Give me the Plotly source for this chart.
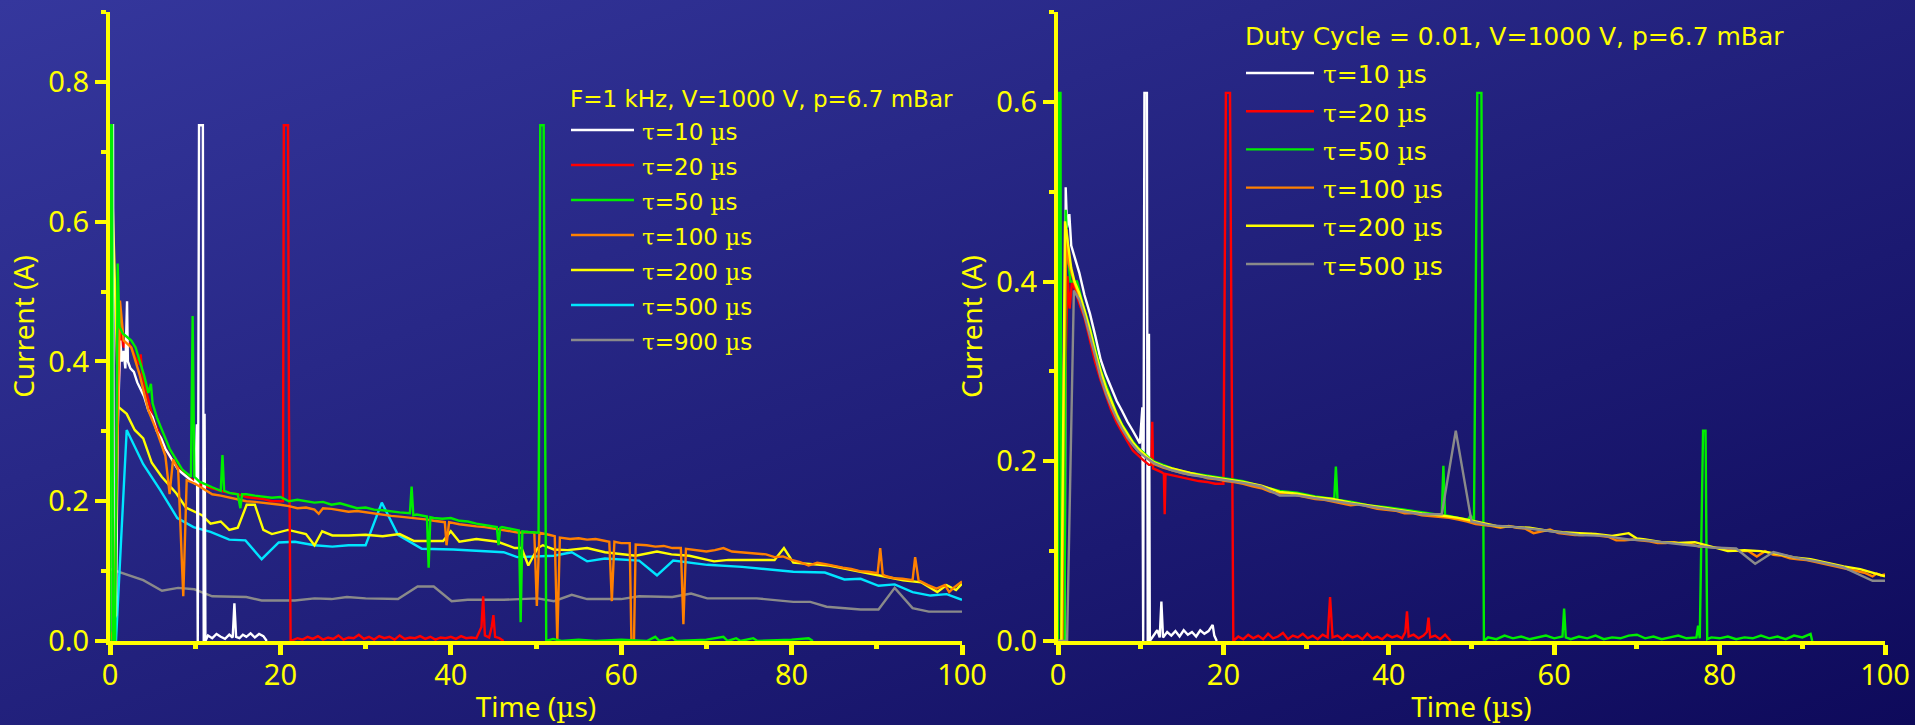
import base64
import plotly.graph_objects as go

# ---------------- data : left panel (F = 1 kHz) ----------------
L_TAU10 = [(0, 0), (0.2, 0.738), (0.35, 0.738), (0.45, 0.03), (0.7, 0.037), (0.9, 0.30), (1.2, 0.43), (1.4, 0.40),
           (1.6, 0.415), (1.8, 0.39), (2.0, 0.486), (2.1, 0.40), (2.4, 0.39), (2.8, 0.385), (3.2, 0.37), (3.6, 0.36),
           (4.0, 0.35), (4.5, 0.33), (5.0, 0.32), (5.5, 0.30), (6.0, 0.29), (6.5, 0.275), (7.0, 0.265), (7.5, 0.255),
           (8.0, 0.245), (8.5, 0.24), (9.0, 0.235), (9.5, 0.23), (10.0, 0.225), (10.2, 0.31), (10.3, 0.0),
           (10.45, 0.738), (10.6, 0.738), (10.9, 0.738), (11.0, 0.0), (11.1, 0.325), (11.2, 0.0), (11.5, 0.008),
           (12.0, 0.004), (12.5, 0.01), (13.0, 0.006), (13.5, 0.003), (14.0, 0.009), (14.4, 0.005), (14.6, 0.054),
           (14.8, 0.006), (15.2, 0.004), (15.6, 0.009), (16.0, 0.006), (16.5, 0.011), (17.0, 0.005), (17.5, 0.01),
           (18.0, 0.007), (18.4, 0.0)]

L_TAU20 = [(0, 0), (0.5, 0), (0.8, 0.30), (1.3, 0.45), (1.6, 0.42), (2.0, 0.43), (2.5, 0.42), (3.0, 0.405),
           (3.5, 0.395), (3.6, 0.41), (3.8, 0.38), (4.5, 0.345), (5.0, 0.32), (5.5, 0.305), (6.0, 0.29),
           (6.5, 0.275), (7.0, 0.265), (7.5, 0.255), (8.0, 0.248), (8.5, 0.242), (9.0, 0.236), (9.5, 0.232),
           (10, 0.228), (10.5, 0.225), (11, 0.222), (12, 0.218), (13, 0.215), (14, 0.212), (15, 0.21), (16, 0.206),
           (17, 0.205), (18, 0.203), (19, 0.2), (20, 0.2), (20.3, 0.2), (20.4, 0.738), (20.9, 0.738), (21.0, 0.33),
           (21.2, 0.0), (22, 0.004), (22.6, 0.002), (23.2, 0.006), (23.8, 0.003), (24.4, 0.007), (25, 0.002),
           (25.6, 0.005), (26.2, 0.003), (26.8, 0.008), (27.4, 0.002), (28, 0.005), (28.6, 0.004), (29.2, 0.009),
           (29.8, 0.003), (30.4, 0.006), (31, 0.002), (31.6, 0.007), (32.2, 0.004), (32.8, 0.006), (33.4, 0.002),
           (34, 0.008), (34.6, 0.003), (35.2, 0.005), (35.8, 0.004), (36.4, 0.007), (37, 0.003), (37.6, 0.006),
           (38.2, 0.002), (38.8, 0.005), (39.4, 0.004), (40, 0.006), (40.6, 0.003), (41.2, 0.007), (41.8, 0.004),
           (42.4, 0.005), (43.0, 0.004), (43.6, 0.02), (43.8, 0.064), (44.0, 0.008), (44.5, 0.005), (44.8, 0.02),
           (45.0, 0.037), (45.2, 0.006), (45.7, 0.004), (46.2, 0.0)]

L_TAU50 = [(0, 0), (0.1, 0.738), (0.25, 0.738), (0.35, 0.0), (0.6, 0.0), (0.9, 0.54), (1.1, 0.45), (1.5, 0.44),
           (2, 0.435), (2.5, 0.43), (3, 0.42), (3.5, 0.40), (4, 0.38), (4.5, 0.355), (4.8, 0.368), (5, 0.34),
           (5.5, 0.32), (6, 0.305), (6.5, 0.29), (7, 0.275), (7.5, 0.265), (8, 0.255), (8.5, 0.245), (9, 0.24),
           (9.5, 0.235), (9.7, 0.465), (9.9, 0.235), (10.5, 0.228), (11, 0.225), (12, 0.22), (13.0, 0.215),
           (13.2, 0.266), (13.4, 0.215), (14, 0.212), (15, 0.21), (15.3, 0.19), (15.5, 0.21), (16, 0.21),
           (17, 0.208), (18, 0.207), (19, 0.205), (20, 0.206), (21, 0.2), (22, 0.202), (23, 0.2), (24, 0.198),
           (25, 0.199), (26, 0.195), (27, 0.197), (28, 0.193), (29, 0.19), (30, 0.191), (31, 0.188), (32, 0.187),
           (33, 0.185), (34, 0.184), (35.2, 0.183), (35.4, 0.221), (35.6, 0.18), (36, 0.181), (37.2, 0.178),
           (37.4, 0.105), (37.6, 0.177), (38, 0.176), (39, 0.175), (40, 0.176), (41, 0.172), (42, 0.171),
           (43, 0.168), (44, 0.166), (45.4, 0.163), (45.6, 0.137), (45.8, 0.162), (46, 0.163), (47, 0.16),
           (48.0, 0.158), (48.2, 0.027), (48.4, 0.157), (49, 0.156), (50.3, 0.155), (50.5, 0.738), (50.9, 0.738),
           (51.2, 0.0), (52, 0.003), (53, 0.0), (55, 0.002), (57, 0.0), (60, 0.002), (63, 0.0), (64, 0.006),
           (64.5, 0.0), (66, 0.005), (66.5, 0.0), (70, 0.002), (72, 0.006), (72.5, 0.0), (73.5, 0.004), (74, 0.0),
           (75.5, 0.004), (76, 0.0), (80, 0.002), (82, 0.004), (82.5, 0.0)]

L_TAU100 = [(0, 0), (0.5, 0.02), (1.17, 0.487), (1.6, 0.43), (2.5, 0.42), (3.5, 0.38), (4.5, 0.33), (5.5, 0.30),
            (6.5, 0.265), (7.0, 0.21), (7.4, 0.26), (8.0, 0.245), (8.6, 0.064), (9.0, 0.23), (10, 0.225),
            (11, 0.218), (12, 0.21), (13, 0.208), (14, 0.205), (15, 0.203), (16, 0.2), (17, 0.199), (18, 0.198),
            (19, 0.196), (20, 0.195), (21, 0.193), (22, 0.19), (23, 0.191), (24, 0.188), (24.5, 0.182),
            (25, 0.19), (26, 0.189), (27, 0.187), (28, 0.185), (29, 0.186), (30, 0.184), (31, 0.182),
            (32, 0.18), (33, 0.179), (34, 0.178), (35, 0.177), (36, 0.175), (37, 0.174), (38, 0.172),
            (39.3, 0.17), (39.5, 0.137), (39.8, 0.17), (41, 0.167), (42, 0.165), (43, 0.164), (44, 0.163),
            (45, 0.161), (46, 0.16), (47, 0.158), (48, 0.155), (49, 0.156), (49.8, 0.155), (50.1, 0.05),
            (50.4, 0.155), (51.5, 0.152), (52.2, 0.15), (52.5, 0.0), (52.8, 0.148), (54, 0.146), (55, 0.147),
            (56, 0.145), (57, 0.146), (58.6, 0.142), (58.9, 0.057), (59.2, 0.142), (60, 0.14), (61.0, 0.14),
            (61.2, 0.0), (61.5, 0.0), (61.7, 0.138), (63, 0.137), (64, 0.135), (65, 0.136), (66, 0.133),
            (67.0, 0.133), (67.3, 0.024), (67.6, 0.132), (69, 0.13), (70, 0.128), (71, 0.13), (72, 0.133),
            (73, 0.128), (74, 0.127), (75, 0.126), (76, 0.125), (77, 0.124), (78, 0.12), (79, 0.121),
            (80, 0.116), (81, 0.113), (82, 0.108), (83, 0.112), (84, 0.11), (85, 0.107), (86, 0.105),
            (87, 0.103), (88, 0.1), (89, 0.099), (90.1, 0.097), (90.4, 0.133), (90.7, 0.095), (91, 0.093),
            (92, 0.09), (93, 0.089), (94.2, 0.087), (94.5, 0.12), (94.9, 0.087), (96, 0.08), (97, 0.075),
            (98, 0.08), (98.5, 0.07), (99, 0.076), (100, 0.085)]

L_TAU200 = [(0, 0), (0.1, 0.72), (0.98, 0.335), (1.96, 0.325), (2.9, 0.302), (3.9, 0.29), (4.9, 0.255),
            (6.07, 0.235), (7.8, 0.211), (8.9, 0.191), (10.8, 0.18), (11.8, 0.168), (13, 0.171), (14, 0.159),
            (15, 0.162), (16.04, 0.195), (17, 0.195), (18, 0.159), (19, 0.153), (20.9, 0.159), (23, 0.153),
            (24, 0.137), (24.9, 0.157), (26.1, 0.151), (28, 0.151), (30, 0.152), (32, 0.15), (34, 0.153),
            (35.7, 0.143), (39.1, 0.143), (40, 0.157), (41, 0.142), (43, 0.146), (45.5, 0.142), (47.5, 0.133),
            (48.3, 0.133), (49.1, 0.108), (50.2, 0.133), (50.8, 0.137), (52.1, 0.131), (53.7, 0.13),
            (56, 0.133), (58.1, 0.127), (61.7, 0.122), (64.2, 0.128), (65.9, 0.124), (68, 0.122),
            (70.9, 0.114), (72.6, 0.116), (78, 0.116), (79.1, 0.133), (80.2, 0.112), (84.4, 0.108),
            (87.7, 0.1), (90.2, 0.093), (93.1, 0.087), (95.2, 0.084), (97.1, 0.07), (98.2, 0.08),
            (99.3, 0.073), (100, 0.082)]

L_TAU500 = [(0, 0), (0.7, 0), (1.96, 0.302), (3.9, 0.253), (5.9, 0.216), (7.9, 0.176), (9.8, 0.163),
            (11.8, 0.156), (14, 0.145), (15.9, 0.144), (17.8, 0.117), (19.8, 0.141), (21.7, 0.142), (24, 0.137),
            (26.1, 0.135), (28, 0.137), (30, 0.137), (31.9, 0.198), (33.8, 0.152), (36.6, 0.132), (40.3, 0.131),
            (46.2, 0.127), (47.8, 0.12), (52.1, 0.122), (54.2, 0.127), (56, 0.114), (58.1, 0.118), (62.1, 0.115),
            (64.2, 0.094), (66.1, 0.115), (70.1, 0.109), (74.2, 0.106), (80.2, 0.099), (83.9, 0.098),
            (86.2, 0.088), (88.1, 0.089), (90.2, 0.079), (92.1, 0.081), (94.2, 0.07), (96.3, 0.065),
            (98.2, 0.067), (100, 0.059)]

L_TAU900 = [(0, 0.103), (3.9, 0.087), (6.1, 0.072), (8.0, 0.076), (9.9, 0.074), (12, 0.064), (16, 0.063),
            (17.8, 0.058), (21.7, 0.058), (24, 0.061), (26, 0.06), (27.8, 0.063), (30, 0.061), (33.8, 0.06),
            (36.1, 0.078), (38, 0.078), (40.1, 0.057), (42, 0.059), (46.2, 0.059), (50.2, 0.061), (52.1, 0.057),
            (54.2, 0.066), (56, 0.06), (60, 0.06), (62.1, 0.064), (66, 0.063), (68.2, 0.068), (70.1, 0.061),
            (75.9, 0.061), (80.2, 0.056), (82.2, 0.056), (84.1, 0.049), (88.1, 0.045), (90.2, 0.045),
            (92.1, 0.076), (94.2, 0.047), (96.1, 0.042), (100, 0.042)]

# ---------------- data : right panel (duty cycle 0.01) ----------------
R_TAU10 = [(0, 0), (0.8, 0), (0.93, 0.505), (1.1, 0.46), (1.37, 0.475), (1.6, 0.44), (1.92, 0.43), (2.3, 0.418),
           (2.57, 0.41), (3.2, 0.385), (3.87, 0.364), (4.5, 0.34), (5.16, 0.313), (5.8, 0.296), (6.46, 0.281),
           (7.1, 0.267), (7.75, 0.256), (8.4, 0.244), (9.05, 0.234), (9.5, 0.227), (9.9, 0.22), (10.2, 0.26),
           (10.3, 0.0), (10.45, 0.61), (10.75, 0.61), (10.85, 0.0), (11.0, 0.342), (11.1, 0.0), (11.5, 0.006),
           (12.0, 0.012), (12.3, 0.004), (12.5, 0.044), (12.7, 0.004), (13.2, 0.01), (13.7, 0.006), (14.2, 0.011),
           (14.7, 0.005), (15.2, 0.012), (15.7, 0.007), (16.2, 0.01), (16.7, 0.005), (17.2, 0.012), (17.7, 0.008),
           (18.2, 0.011), (18.7, 0.018), (18.9, 0.006), (19.2, 0.0)]

R_TAU20 = [(0, 0), (0.6, 0), (0.9, 0.30), (1.15, 0.406), (1.4, 0.37), (1.7, 0.40), (2.1, 0.39), (2.6, 0.375),
           (3.2, 0.36), (3.87, 0.335), (4.5, 0.31), (5.16, 0.29), (5.8, 0.272), (6.46, 0.256), (7.1, 0.243),
           (7.75, 0.232), (8.4, 0.222), (9.05, 0.212), (9.7, 0.206), (10.35, 0.201), (11, 0.196), (11.3, 0.196),
           (11.4, 0.244), (11.5, 0.192), (12.5, 0.188), (12.8, 0.186), (12.9, 0.141), (13.0, 0.186), (14, 0.184),
           (15, 0.182), (16, 0.18), (17, 0.178), (18, 0.177), (19, 0.175), (20.0, 0.175), (20.3, 0.61),
           (20.8, 0.61), (21.0, 0.3), (21.2, 0.0), (21.8, 0.005), (22.4, 0.002), (23.0, 0.007), (23.6, 0.003),
           (24.2, 0.006), (24.8, 0.002), (25.4, 0.008), (26.0, 0.003), (26.6, 0.005), (27.2, 0.009),
           (27.8, 0.002), (28.4, 0.006), (29.0, 0.004), (29.6, 0.008), (30.2, 0.003), (30.8, 0.006),
           (31.4, 0.002), (32.0, 0.007), (32.6, 0.004), (32.9, 0.049), (33.2, 0.004), (33.8, 0.006),
           (34.4, 0.002), (35.0, 0.007), (35.6, 0.004), (36.2, 0.006), (36.8, 0.002), (37.4, 0.008),
           (38.0, 0.003), (38.6, 0.005), (39.2, 0.002), (39.8, 0.007), (40.4, 0.004), (41.0, 0.006),
           (41.6, 0.003), (42.0, 0.01), (42.2, 0.033), (42.4, 0.005), (43.0, 0.007), (43.6, 0.003),
           (44.2, 0.006), (44.6, 0.01), (44.8, 0.026), (45.0, 0.004), (45.6, 0.006), (46.2, 0.002),
           (46.8, 0.007), (47.5, 0.0)]

R_TAU50 = [(0, 0), (0.1, 0.61), (0.3, 0.61), (0.4, 0), (0.8, 0), (0.93, 0.48), (1.2, 0.43), (1.5, 0.40),
           (2.3, 0.40), (3, 0.375), (3.87, 0.348), (4.5, 0.325), (5.16, 0.302), (5.8, 0.285), (6.46, 0.268),
           (7.1, 0.253), (7.75, 0.241), (8.4, 0.231), (9.05, 0.222), (9.7, 0.215), (10.35, 0.209), (11, 0.204),
           (11.6, 0.2), (12.7, 0.196), (13.8, 0.192), (15, 0.189), (16, 0.187), (18.1, 0.184), (20.3, 0.181),
           (22.4, 0.178), (24.6, 0.172), (26.8, 0.167), (28.9, 0.165), (31.1, 0.161), (33.4, 0.158),
           (33.6, 0.194), (33.8, 0.157), (35.4, 0.155), (37.6, 0.151), (39.7, 0.149), (41.9, 0.146), (44, 0.143),
           (46.4, 0.14), (46.6, 0.195), (46.8, 0.14), (48.4, 0.137), (49.6, 0.135), (49.9, 0.14), (50.3, 0.133),
           (50.7, 0.61), (51.2, 0.61), (51.5, 0.0), (52, 0.004), (53, 0.002), (54, 0.006), (55, 0.003),
           (56, 0.005), (57, 0.002), (58, 0.004), (59, 0.006), (60, 0.003), (61.0, 0.005), (61.2, 0.036),
           (61.4, 0.004), (62, 0.002), (63, 0.005), (64, 0.003), (65, 0.006), (66, 0.002), (67, 0.004),
           (68, 0.003), (69, 0.006), (70, 0.007), (71, 0.003), (72, 0.005), (73, 0.002), (74, 0.004),
           (75, 0.006), (76, 0.003), (77.2, 0.004), (77.4, 0.017), (77.6, 0.003), (78.0, 0.234), (78.3, 0.234),
           (78.5, 0.002), (79, 0.004), (80, 0.003), (81, 0.005), (82, 0.002), (83, 0.004), (84, 0.003),
           (85, 0.006), (86, 0.003), (87, 0.005), (88, 0.002), (89, 0.006), (90, 0.004), (91, 0.008), (91.2, 0.0)]

R_TAU100 = [(0, 0), (0.5, 0), (0.7, 0.3), (1.05, 0.458), (1.3, 0.42), (1.6, 0.41), (2, 0.398), (2.6, 0.383),
            (3.2, 0.365), (3.87, 0.343), (4.5, 0.32), (5.16, 0.297), (5.8, 0.28), (6.46, 0.264), (7.1, 0.25),
            (7.75, 0.238), (8.4, 0.228), (9.05, 0.219), (9.7, 0.212), (10.35, 0.207), (11, 0.202), (11.6, 0.197),
            (12.7, 0.193), (13.8, 0.19), (15, 0.187), (16, 0.185), (17, 0.184), (18.1, 0.181), (19.2, 0.18),
            (20.3, 0.178), (21.3, 0.177), (22.4, 0.175), (23.5, 0.172), (24.6, 0.17), (25.7, 0.166),
            (26.8, 0.164), (27.9, 0.165), (28.9, 0.162), (30, 0.16), (31.1, 0.158), (32.2, 0.157), (33.2, 0.155),
            (34.3, 0.153), (35.4, 0.151), (36.5, 0.152), (37.6, 0.149), (38.6, 0.147), (39.7, 0.146),
            (40.8, 0.145), (41.9, 0.142), (43, 0.142), (44, 0.14), (45.1, 0.139), (46.2, 0.138), (47.3, 0.137),
            (48.4, 0.135), (49.5, 0.133), (50.5, 0.13), (51.5, 0.129), (52.5, 0.128), (53.5, 0.126),
            (54.5, 0.128), (55.5, 0.126), (56.5, 0.125), (57.5, 0.12), (58.5, 0.122), (59.5, 0.124),
            (60.5, 0.12), (61.5, 0.119), (62.5, 0.118), (63.5, 0.118), (64.5, 0.119), (65.5, 0.117),
            (66.5, 0.116), (67.5, 0.112), (68.5, 0.112), (69.5, 0.113), (70.5, 0.112), (71.5, 0.111),
            (72.5, 0.109), (73.5, 0.109), (74.5, 0.11), (75.5, 0.108), (76.5, 0.108), (77.5, 0.105),
            (78.5, 0.105), (79.5, 0.104), (80.5, 0.103), (81.5, 0.101), (82.5, 0.1), (83.5, 0.1), (84.5, 0.094),
            (85.5, 0.1), (86.5, 0.096), (87.5, 0.095), (88.5, 0.092), (89.5, 0.091), (90.5, 0.09),
            (91.5, 0.088), (92.5, 0.086), (93.5, 0.084), (94.5, 0.082), (95.5, 0.08), (96.5, 0.078),
            (97.5, 0.076), (98.5, 0.072), (99, 0.075), (99.5, 0.073), (100, 0.074)]

R_TAU200 = [(0, 0), (0.4, 0), (0.85, 0.467), (1.2, 0.44), (1.6, 0.415), (2, 0.40), (2.57, 0.387), (3.2, 0.368),
            (3.87, 0.346), (4.5, 0.322), (5.16, 0.3), (5.8, 0.282), (6.46, 0.266), (7.1, 0.252), (7.75, 0.24),
            (8.4, 0.23), (9.05, 0.221), (9.7, 0.214), (10.35, 0.208), (11, 0.203), (11.6, 0.199), (12.7, 0.195),
            (13.8, 0.192), (15, 0.189), (16, 0.187), (18.1, 0.183), (20.3, 0.18), (22.4, 0.177), (24.6, 0.173),
            (25.2, 0.171), (26.8, 0.166), (28.9, 0.164), (31.1, 0.16), (33.2, 0.158), (35.4, 0.154),
            (37.6, 0.151), (39.7, 0.148), (41.9, 0.145), (44, 0.142), (46.2, 0.14), (48.4, 0.137),
            (50.5, 0.133), (52, 0.13), (53, 0.128), (55, 0.127), (57, 0.126), (59, 0.123), (61, 0.121),
            (63, 0.12), (65, 0.119), (67, 0.117), (69, 0.12), (70, 0.114), (71, 0.113), (73, 0.11), (75, 0.109),
            (77, 0.11), (79, 0.105), (81, 0.1), (83, 0.101), (85, 0.1), (87, 0.097), (89, 0.093), (91, 0.091),
            (93, 0.087), (95, 0.083), (97, 0.08), (99, 0.075), (100, 0.072)]

R_TAU500 = [(0, 0), (1.1, 0), (1.92, 0.39), (2.57, 0.38), (3.2, 0.362), (3.87, 0.34), (4.5, 0.317), (5.16, 0.293),
            (5.8, 0.275), (6.46, 0.26), (7.1, 0.247), (7.75, 0.236), (8.4, 0.226), (9.05, 0.218), (9.7, 0.211),
            (10.35, 0.206), (11.6, 0.198), (13.8, 0.19), (16, 0.185), (18.1, 0.182), (20.3, 0.179),
            (22.4, 0.176), (24.6, 0.172), (26.8, 0.162), (28.9, 0.162), (31.1, 0.159), (33.2, 0.156),
            (35.4, 0.153), (37.6, 0.15), (39.7, 0.147), (41.9, 0.144), (44, 0.141), (46.4, 0.141),
            (48.1, 0.234), (50.0, 0.133), (52, 0.129), (55, 0.127), (59, 0.123), (63, 0.118), (66, 0.117),
            (69, 0.113), (71, 0.112), (75, 0.108), (79, 0.104), (82, 0.103), (84.3, 0.086), (86.5, 0.099),
            (89, 0.093), (92, 0.088), (95, 0.082), (98.5, 0.067), (100, 0.067)]

LEFT_TITLE = "F=1 kHz, V=1000 V, p=6.7 mBar"
RIGHT_TITLE = "Duty Cycle = 0.01, V=1000 V, p=6.7 mBar"
LEFT_TAUS = [10, 20, 50, 100, 200, 500, 900]
RIGHT_TAUS = [10, 20, 50, 100, 200, 500]
LEFT_SERIES = [L_TAU10, L_TAU20, L_TAU50, L_TAU100, L_TAU200, L_TAU500, L_TAU900]
RIGHT_SERIES = [R_TAU10, R_TAU20, R_TAU50, R_TAU100, R_TAU200, R_TAU500]
X_TICKS = [0, 20, 40, 60, 80, 100]

# ---------------- styling ----------------
W, H = 1915, 725
YEL = "#ffff00"
COLORS = {10: "#ffffff", 20: "#ff0000", 50: "#00ee00", 100: "#ff8000", 200: "#ffff00", 500: "#00e5ff", 900: "#8a8a8a"}
RIGHT_COLORS = {10: "#ffffff", 20: "#ff0000", 50: "#00ee00", 100: "#ff8000", 200: "#ffff00", 500: "#8a8a8a"}
SERIF = "<span style='font-family:DejaVu Serif'>%s</span>"
TAU, MU = SERIF % "τ", SERIF % "µ"

def lab(tau):
    return f"{TAU}={tau} {MU}s"

fig = go.Figure()

left_order = [900, 500, 200, 20, 10, 100, 50]
for tau in left_order:
    pts = LEFT_SERIES[LEFT_TAUS.index(tau)]
    fig.add_trace(go.Scatter(x=[p[0] for p in pts], y=[p[1] for p in pts], mode="lines",
                             line=dict(color=COLORS[tau], width=2.4), name=f"τ={tau} µs",
                             xaxis="x", yaxis="y", showlegend=False))
right_order = [10, 20, 50, 100, 200, 500]
for tau in right_order:
    pts = RIGHT_SERIES[RIGHT_TAUS.index(tau)]
    fig.add_trace(go.Scatter(x=[p[0] for p in pts], y=[p[1] for p in pts], mode="lines",
                             line=dict(color=RIGHT_COLORS[tau], width=2.4), name=f"τ={tau} µs",
                             xaxis="x2", yaxis="y2", showlegend=False))

tickfont = dict(family="Noto Sans", size=29, color=YEL)
titlefont = dict(family="Noto Sans", size=28, color=YEL)

def xax(domain, anchor):
    return dict(domain=domain, anchor=anchor, range=[0, 100], tickvals=X_TICKS, showline=True,
                linecolor=YEL, linewidth=4, ticks="outside", ticklen=10, tickwidth=5, tickcolor=YEL,
                minor=dict(dtick=10, tick0=0, ticks="outside", ticklen=4, tickwidth=5, tickcolor=YEL),
                showgrid=False, zeroline=False, tickfont=tickfont, automargin=False, layer="below traces",
                ticklabelstandoff=-5,
                title=dict(text=f"Time ({MU}s)", font=titlefont, standoff=8), fixedrange=True)

def yax(domain, anchor, top):
    return dict(domain=domain, anchor=anchor, range=[0, top], dtick=0.2, tick0=0, tickformat=".1f",
                showline=True, linecolor=YEL, linewidth=4, ticks="outside", ticklen=11, tickwidth=4,
                tickcolor=YEL,
                minor=dict(dtick=0.1, tick0=0, ticks="outside", ticklen=5, tickwidth=4, tickcolor=YEL),
                showgrid=False, zeroline=False, tickfont=tickfont, automargin=False, layer="below traces",
                ticklabelstandoff=0,
                title=dict(text="Current (A)", font=titlefont, standoff=6), fixedrange=True)

ydom = [84 / H, 713 / H]
fig.update_layout(
    xaxis=xax([110 / W, 962 / W], "y"),
    yaxis=yax(ydom, "x", 0.9),
    xaxis2=xax([1058 / W, 1885 / W], "y2"),
    yaxis2=yax(ydom, "x2", 0.7),
)

# manual legends
shapes, annos = [], []
def px(x):
    return x / W
def py(y):
    return 1 - y / H

annos.append(dict(x=px(568), y=py(99), xref="paper", yref="paper", text=LEFT_TITLE, showarrow=False,
                  xanchor="left", yanchor="middle", font=dict(family="DejaVu Sans", size=23, color=YEL)))
for k, tau in enumerate(LEFT_TAUS):
    yy = 130 + 35 * k
    shapes.append(dict(type="line", xref="paper", yref="paper", x0=px(571), x1=px(634), y0=py(yy), y1=py(yy),
                       line=dict(color=COLORS[tau], width=2.4)))
    annos.append(dict(x=px(640), y=py(yy + 2), xref="paper", yref="paper", text=lab(tau), showarrow=False,
                      xanchor="left", yanchor="middle", font=dict(family="DejaVu Sans", size=23, color=YEL)))

annos.append(dict(x=px(1243), y=py(37), xref="paper", yref="paper", text=RIGHT_TITLE, showarrow=False,
                  xanchor="left", yanchor="middle", font=dict(family="DejaVu Sans", size=25, color=YEL)))
for k, tau in enumerate(RIGHT_TAUS):
    yy = 73 + 38.2 * k
    shapes.append(dict(type="line", xref="paper", yref="paper", x0=px(1246), x1=px(1314), y0=py(yy), y1=py(yy),
                       line=dict(color=RIGHT_COLORS[tau], width=2.4)))
    annos.append(dict(x=px(1321), y=py(yy + 2), xref="paper", yref="paper", text=lab(tau), showarrow=False,
                      xanchor="left", yanchor="middle", font=dict(family="DejaVu Sans", size=25, color=YEL)))

svg = ('<svg xmlns="http://www.w3.org/2000/svg" width="1915" height="725" viewBox="0 0 1915 725" '
       'preserveAspectRatio="none"><defs><linearGradient id="g" x1="0" y1="0" x2="1" y2="1">'
       '<stop offset="0" stop-color="#35379d"/><stop offset="1" stop-color="#0e0a5b"/></linearGradient></defs>'
       '<rect width="1915" height="725" fill="url(#g)"/></svg>')
uri = "data:image/svg+xml;base64," + base64.b64encode(svg.encode()).decode()

fig.update_layout(
    width=W, height=H, margin=dict(l=0, r=0, t=0, b=0, pad=0),
    paper_bgcolor="#22237c", plot_bgcolor="rgba(0,0,0,0)",
    shapes=shapes, annotations=annos, showlegend=False,
    images=[dict(source=uri, xref="paper", yref="paper", x=0, y=1, sizex=1, sizey=1, sizing="stretch",
                 xanchor="left", yanchor="top", layer="below")],
)

fig.write_html("out.html", include_plotlyjs=True, config={"displayModeBar": False},
               post_script="document.body.style.margin='0';document.body.style.padding='0';"
                           "document.body.style.overflow='hidden';document.body.style.background='#22237c';")
